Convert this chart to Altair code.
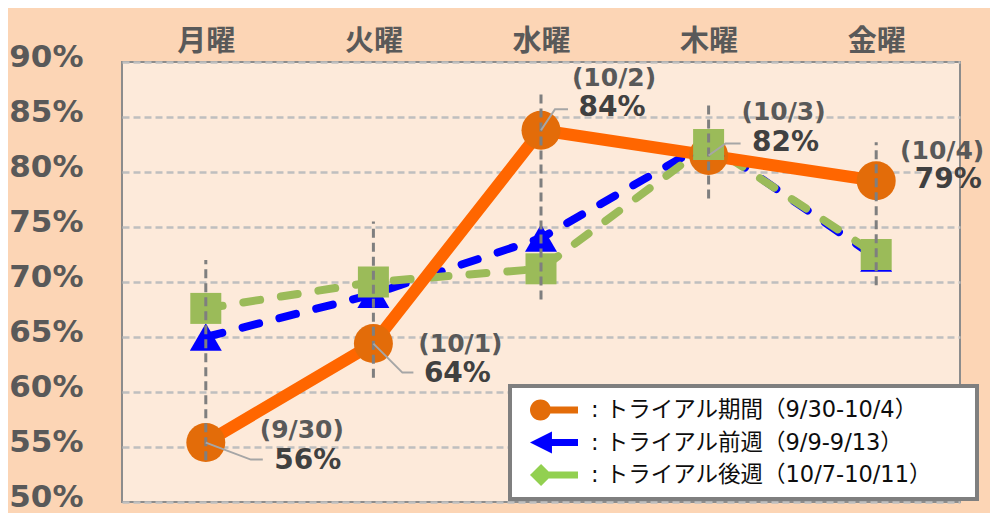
import altair as alt
import pandas as pd

# ---- data ----
days = ["月曜", "火曜", "水曜", "木曜", "金曜"]
trial = [55.4, 64.4, 83.8, 81.5, 79.2]      # トライアル期間
before = [65.0, 68.9, 74.0, 82.7, 72.2]     # トライアル前週
after = [67.6, 70.0, 71.2, 82.5, 72.5]      # トライアル後週
date_labels = ["(9/30)", "(10/1)", "(10/2)", "(10/3)", "(10/4)"]
pct_labels = ["56%", "64%", "84%", "82%", "79%"]
drop_hi = [72.0, 75.5, 87.5, 86.5, 82.7]
drop_lo = [53.8, 61.3, 68.4, 77.6, 69.7]
y_ticks = [50, 55, 60, 65, 70, 75, 80, 85, 90]
series_names = [
    ": トライアル期間（9/30-10/4）",
    ": トライアル前週（9/9-9/13）",
    ": トライアル後週（10/7-10/11）",
]
PAD_RIGHT = "\u2800\u2800"  # blank filler widening the legend box

df = pd.DataFrame({
    "day": days,
    "trial": [v / 100 for v in trial],
    "before": [v / 100 for v in before],
    "after": [v / 100 for v in after],
    "hi": [v / 100 for v in drop_hi],
    "lo": [v / 100 for v in drop_lo],
    "date": date_labels,
    "pct": pct_labels,
})
legend_names = [s + PAD_RIGHT for s in series_names]
legend_df = pd.DataFrame({"series": legend_names})

# ---- styles ----
ORANGE_LINE = "#FF6600"
ORANGE_PT = "#E36C09"
BLUE = "#0000FF"
GREEN = "#9BBB59"
LEGEND_GREEN = "#92D050"

x_axis = alt.Axis(orient="top", title=None, ticks=False, domain=False, labelAngle=0,
                  labelFont="Noto Sans CJK JP", labelFontWeight="bold", labelFontSize=29,
                  labelColor="#595959", labelPadding=21, labelBaseline="middle", grid=False)
y_axis = alt.Axis(title=None, values=[v / 100 for v in y_ticks], format=".0%", ticks=False,
                  domain=False, labelFont="DejaVu Sans", labelFontWeight="bold",
                  labelFontSize=31, labelColor="#595959", labelPadding=39, labelOffset=-5,
                  grid=True, gridColor="#BFBFBF", gridDash=[7, 4], gridWidth=2.5)
x_scale = alt.Scale(type="point", domain=days, padding=0.5)
y_scale = alt.Scale(domain=[0.5, 0.9], nice=False, zero=False)


def X():
    return alt.X("day:N", scale=x_scale, axis=x_axis, sort=days)


def Y(field):
    return alt.Y(f"{field}:Q", scale=y_scale, axis=y_axis)


base = alt.Chart(df)

blue_line = base.mark_line(color=BLUE, strokeWidth=8, strokeDash=[17, 21], strokeCap="round").encode(x=X(), y=Y("before"))
green_line = base.mark_line(color=GREEN, strokeWidth=8, strokeDash=[17, 21], strokeCap="round").encode(x=X(), y=Y("after"))
orange_line = base.mark_line(color=ORANGE_LINE, strokeWidth=12).encode(x=X(), y=Y("trial"))
orange_pts = base.mark_point(shape="circle", filled=True, size=1521, color=ORANGE_PT, opacity=1).encode(x=X(), y=Y("trial"))
blue_pts = base.mark_point(shape="triangle-up", filled=True, size=1024, color=BLUE, opacity=1).encode(x=X(), y=Y("before"))
green_pts = base.mark_point(shape="square", filled=True, size=961, color=GREEN, opacity=1).encode(x=X(), y=Y("after"))
drops = base.mark_rule(color="#7F7F7F", strokeWidth=3, strokeDash=[9, 5]).encode(x=X(), y=Y("lo"), y2="hi:Q")

# per-point label placement (style only)
label_style = [
    {"date": (96, -13), "pct": (102, 18), "leader": "M0,0 L45,17 L57,17"},
    {"date": (87, 0), "pct": (84, 30), "leader": "M0,0 L29,29 L40,29"},
    {"date": (73, -52), "pct": (71, -22), "leader": "M0,0 L14,-21 L27,-21"},
    {"date": (75, -44), "pct": (77, -13), "leader": "M0,0 L17,-12 L32,-12"},
    {"date": (66, -30), "pct": (72, -1), "leader": None},
]

annot = []
for d, st in zip(days, label_style):
    sub = base.transform_filter(alt.datum.day == d)
    if st["leader"]:
        annot.append(sub.mark_point(shape=st["leader"], size=4, filled=False, stroke="#A6A6A6",
                                    strokeWidth=2, opacity=1).encode(x=X(), y=Y("trial")))
    annot.append(sub.mark_text(dx=st["date"][0], dy=st["date"][1], font="DejaVu Sans",
                               fontWeight="bold", fontSize=25, color="#595959",
                               align="center", baseline="middle").encode(x=X(), y=Y("trial"), text="date:N"))
    annot.append(sub.mark_text(dx=st["pct"][0], dy=st["pct"][1], font="DejaVu Sans",
                               fontWeight="bold", fontSize=28, color="#404040",
                               align="center", baseline="middle").encode(x=X(), y=Y("trial"), text="pct:N"))

# legend symbols: marker + line, as custom paths
legend_paths = [
    "M-1,0 A0.875,0.875 0 1,1 0.75,0 A0.875,0.875 0 1,1 -1,0 Z M-0.125,-0.29 L3,-0.29 L3,0.29 L-0.125,0.29 Z",
    "M-1,0 L0.83,-0.92 L0.83,0.92 Z M0.8,-0.29 L3,-0.29 L3,0.29 L0.8,0.29 Z",
    "M-1,0 L-0.08,-0.92 L0.84,0 L-0.08,0.92 Z M-0.08,-0.29 L3,-0.29 L3,0.29 L-0.08,0.29 Z",
]
leg = alt.Legend(title=None, orient="none", legendX=388, legendY=324, padding=12,
                 strokeColor="#7F7F7F", fillColor="#FFFFFF",
                 labelFont="DejaVu Sans, Noto Sans CJK JP", labelFontSize=22.5, labelColor="#0D0D0D",
                 labelOffset=37, symbolOffset=8, symbolSize=576, symbolStrokeWidth=0,
                 rowPadding=8.5, labelLimit=800, symbolOpacity=1)
legend_layer = alt.Chart(legend_df).mark_point(filled=True, size=576, opacity=1).encode(
    x=alt.value(-2000), y=alt.value(-2000),
    shape=alt.Shape("series:N", scale=alt.Scale(domain=legend_names, range=legend_paths), legend=leg),
    fill=alt.Fill("series:N", scale=alt.Scale(domain=legend_names, range=[ORANGE_PT, BLUE, LEGEND_GREEN]), legend=leg),
)

chart = alt.layer(
    blue_line, green_line, orange_line, orange_pts, blue_pts, green_pts, drops, *annot, legend_layer
).properties(
    width=838, height=440,
    padding={"left": 114, "top": 54, "right": 30, "bottom": 20},
    autosize=alt.AutoSizeParams(type="none"),
    background="#FCD5B5",
).configure_view(
    fill="#FDEADA", stroke="#8C8C8C", strokeWidth=2
).configure_legend(strokeWidth=4)

chart.save("out.html", embed_options={"renderer": "svg", "actions": False})
